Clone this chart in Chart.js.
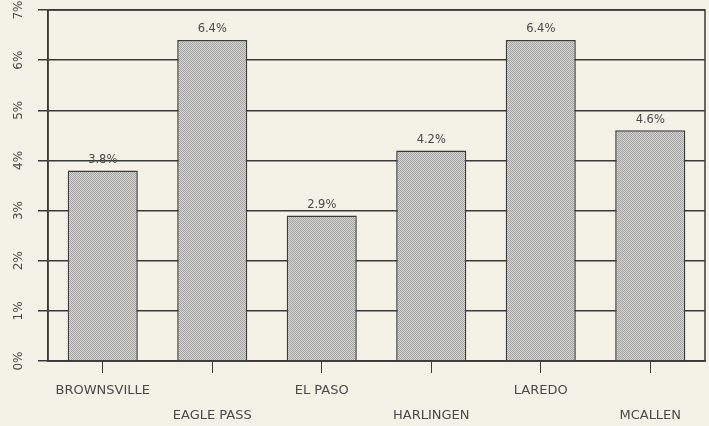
<!DOCTYPE html>
<html>
<head>
<meta charset="utf-8">
<script src="https://cdn.jsdelivr.net/npm/chart.js@4"></script>
<style>
  html, body { margin: 0; padding: 0; background: #f4f1e7; }
  #wrap { width: 709px; height: 426px; }
</style>
</head>
<body>
<div id="wrap"><canvas id="myChart" width="709" height="426"></canvas></div>
<script>
// city names, second row ones get an empty first line
var cities = ['BROWNSVILLE', 'EAGLE PASS', 'EL PASO', 'HARLINGEN', 'LAREDO', 'MCALLEN'];
var rates = [3.8, 6.4, 2.9, 4.2, 6.4, 4.6];
var yTicks = ['0%', '1%', '2%', '3%', '4%', '5%', '6%', '7%'];

var ink = '#3a3a3a';
var font = "'DejaVu Sans', sans-serif";

function stipple() {
    var c = document.createElement('canvas');
    c.width = 2; c.height = 2;
    var g = c.getContext('2d');
    g.fillStyle = '#d6d6d2';
    g.fillRect(0, 0, 2, 2);
    g.fillStyle = '#a2a2a0';
    g.fillRect(0, 0, 1, 1);
    g.fillRect(1, 1, 1, 1);
    return g.createPattern(c, 'repeat');
}

var labels = cities.map(function (name, i) {
    return i % 2 == 0 ? [name] : ['', name];
});

var extras = {
    id: 'extras',
    afterDraw: function (chart) {
        var ctx = chart.ctx;
        var area = chart.chartArea;
        var y = chart.scales.y;
        var meta = chart.getDatasetMeta(0);
        ctx.save();
        // frame on right / top
        ctx.strokeStyle = ink;
        ctx.lineWidth = 1.5;
        ctx.strokeRect(area.left, area.top, area.right - area.left, area.bottom - area.top);
        // rotated y labels
        ctx.fillStyle = '#4a4a4a';
        ctx.font = '12px ' + font;
        ctx.textAlign = 'center';
        ctx.textBaseline = 'middle';
        yTicks.forEach(function (t, i) {
            ctx.save();
            ctx.translate(19, y.getPixelForValue(i));
            ctx.rotate(-Math.PI / 2);
            ctx.fillText(t, 0, 0);
            ctx.restore();
        });
        // value labels above bars
        ctx.font = '11.5px ' + font;
        ctx.textBaseline = 'bottom';
        meta.data.forEach(function (bar, i) {
            ctx.fillText(rates[i].toFixed(1) + '%', bar.x, bar.y - 5);
        });
        ctx.restore();
    }
};

var myChart = new Chart('myChart', {
    type: 'bar',
    data: {
        labels: labels,
        datasets: [{
            data: rates,
            backgroundColor: stipple(),
            borderColor: ink,
            borderWidth: 1.5,
            barPercentage: 0.64,
            categoryPercentage: 1
        }]
    },
    options: {
        responsive: false,
        animation: false,
        layout: { padding: { left: 38, top: 10, right: 4, bottom: -7 } },
        plugins: {
            legend: { display: false },
            tooltip: { enabled: false }
        },
        scales: {
            x: {
                grid: { offset: false, drawOnChartArea: false, color: ink, lineWidth: 1, tickLength: 12 },
                border: { color: ink, width: 1.5 },
                ticks: { color: '#4a4a4a', font: { family: font, size: 13, lineHeight: '25px' }, padding: 5, maxRotation: 0, autoSkip: false }
            },
            y: {
                min: 0,
                max: 7,
                grid: { color: ink, lineWidth: 1.5, tickLength: 10 },
                border: { color: ink, width: 1.5 },
                ticks: { display: false, stepSize: 1 }
            }
        }
    },
    plugins: [extras]
});
</script>
</body>
</html>
